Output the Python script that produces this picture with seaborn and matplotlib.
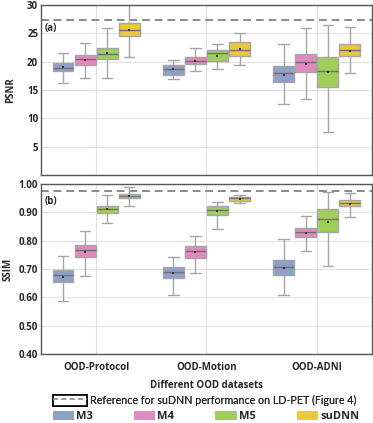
import numpy as np
import pandas as pd
import matplotlib
matplotlib.use("Agg")
import matplotlib.pyplot as plt
import seaborn as sns
from matplotlib.lines import Line2D
from matplotlib.patches import Patch
from matplotlib.legend_handler import HandlerTuple

datasets = ["OOD-Protocol", "OOD-Motion", "OOD-ADNI"]
models = ["M3", "M4", "M5", "suDNN"]
colors = ["#8fa0c8", "#e08ac0", "#9fcf58", "#e9c93a"]

# five-number summaries [min, Q1, median, Q3, max], model order M3, M4, M5, suDNN
psnr_protocol = [[16.3, 18.35, 18.95, 19.7, 21.5], [17.1, 19.5, 20.4, 21.2, 23.35],
                 [17.2, 20.4, 21.35, 22.5, 25.9], [20.8, 24.5, 25.6, 26.8, 30.5]]
psnr_motion = [[16.9, 17.7, 18.7, 19.35, 20.3], [18.3, 19.6, 20.2, 20.8, 22.5],
               [18.65, 20.05, 21.5, 22.05, 23.2], [19.4, 21.0, 22.05, 23.4, 25.0]]
psnr_adni = [[12.5, 16.5, 17.95, 19.2, 23.05], [13.35, 18.2, 19.95, 21.35, 26.0],
             [7.6, 15.5, 18.4, 20.9, 26.5], [18.1, 21.1, 22.05, 23.1, 26.2]]
ssim_protocol = [[0.586, 0.653, 0.680, 0.696, 0.745], [0.674, 0.741, 0.767, 0.784, 0.835],
                 [0.862, 0.899, 0.911, 0.924, 0.960], [0.924, 0.951, 0.959, 0.965, 0.988]]
ssim_motion = [[0.607, 0.667, 0.689, 0.707, 0.742], [0.686, 0.739, 0.762, 0.780, 0.818],
               [0.842, 0.889, 0.907, 0.921, 0.935], [0.932, 0.941, 0.951, 0.955, 0.961]]
ssim_adni = [[0.607, 0.680, 0.707, 0.732, 0.805], [0.763, 0.812, 0.832, 0.844, 0.887],
             [0.711, 0.832, 0.875, 0.913, 0.971], [0.885, 0.922, 0.934, 0.944, 0.967]]

psnr_mean_protocol = [19.0, 20.3, 21.5, 25.6]
psnr_mean_motion = [18.65, 20.2, 21.05, 22.2]
psnr_mean_adni = [17.7, 19.6, 18.2, 21.9]
ssim_mean_protocol = [0.671, 0.760, 0.911, 0.958]
ssim_mean_motion = [0.685, 0.760, 0.904, 0.948]
ssim_mean_adni = [0.703, 0.826, 0.867, 0.929]

psnr_reference = 27.4
ssim_reference = 0.976


def box_frame(groups):
    rows = []
    for ds, summ in zip(datasets, groups):
        for m, vals in zip(models, summ):
            for v in vals:
                rows.append((ds, m, v))
    return pd.DataFrame(rows, columns=["dataset", "model", "value"])


def mean_frame(groups):
    rows = []
    for ds, means in zip(datasets, groups):
        for m, v in zip(models, means):
            rows.append((ds, m, v))
    return pd.DataFrame(rows, columns=["dataset", "model", "value"])


psnr_df = box_frame([psnr_protocol, psnr_motion, psnr_adni])
ssim_df = box_frame([ssim_protocol, ssim_motion, ssim_adni])
psnr_mean_df = mean_frame([psnr_mean_protocol, psnr_mean_motion, psnr_mean_adni])
ssim_mean_df = mean_frame([ssim_mean_protocol, ssim_mean_motion, ssim_mean_adni])

sns.set_style("whitegrid")
plt.rcParams["font.family"] = ["Open Sans", "DejaVu Sans"]

FS = 7

fig = plt.figure(figsize=(3.73, 4.23), dpi=100)
ax1 = fig.add_axes([0.110, 0.586, 0.887, 0.402])
ax2 = fig.add_axes([0.110, 0.163, 0.887, 0.402])

for ax, df, mdf, ref in [(ax1, psnr_df, psnr_mean_df, psnr_reference),
                         (ax2, ssim_df, ssim_mean_df, ssim_reference)]:
    sns.boxplot(data=df, x="dataset", y="value", hue="model", order=datasets,
                hue_order=models, palette=colors, whis=(0, 100), width=0.8, gap=0.06,
                linewidth=1, linecolor="#a5a5a5", fliersize=0, saturation=1,
                legend=False, ax=ax, medianprops=dict(color="#707070", linewidth=1))
    sns.stripplot(data=mdf, x="dataset", y="value", hue="model", order=datasets,
                  hue_order=models, palette=["#333333"] * 4, dodge=True, jitter=False,
                  marker="s", size=1.6, legend=False, ax=ax, zorder=5)
    ax.axhline(ref, color="#8a8a8a", linestyle=(0, (4, 2.5)), linewidth=1.4, zorder=1)
    ax.set_xlim(-0.5, 2.5)
    ax.grid(axis="both", color="#e0e0e0", linewidth=0.8)
    ax.set_axisbelow(True)
    for s in ax.spines.values():
        s.set_color("#555555")
        s.set_linewidth(1.0)
    ax.tick_params(axis="both", labelsize=FS, length=0, pad=2)

ax1.set_ylim(0, 30)
ax1.set_yticks([5, 10, 15, 20, 25, 30])
ax1.set_yticklabels(["5", "10", "15", "20", "25", "30"], fontweight="bold", fontsize=FS)
ax1.set_xticklabels([])
ax1.set_xlabel("")
ax1.set_ylabel("PSNR", fontweight="bold", fontsize=FS, labelpad=8)
ax1.text(0.012, 0.86, "(a)", transform=ax1.transAxes, fontweight="bold", fontsize=FS,
         va="center", ha="left")

ax2.set_ylim(0.4, 1.0)
ssim_ticks = [0.4, 0.5, 0.6, 0.7, 0.8, 0.9, 1.0]
ax2.set_yticks(ssim_ticks)
ax2.set_yticklabels([f"{t:.2f}" for t in ssim_ticks], fontweight="bold", fontsize=FS)
ax2.set_xticks(range(len(datasets)))
ax2.set_xticklabels(datasets, fontweight="bold", fontsize=FS)
ax2.tick_params(axis="x", pad=6)
ax2.set_xlabel("Different OOD datasets", fontweight="bold", fontsize=FS, labelpad=5)
ax2.set_ylabel("SSIM", fontweight="bold", fontsize=FS, labelpad=4)
ax2.text(0.012, 0.90, "(b)", transform=ax2.transAxes, fontweight="bold", fontsize=FS,
         va="center", ha="left")

ref_handle = (Patch(facecolor="white", edgecolor="black", linewidth=1.2),
              Line2D([0], [0], color="#8a8a8a", linestyle=(0, (3, 2)), linewidth=1.2))
leg1 = fig.legend([ref_handle], ["Reference for suDNN performance on LD-PET (Figure 4)"],
                  handler_map={tuple: HandlerTuple(ndivide=1)},
                  loc="center left", bbox_to_anchor=(0.142, 0.054), frameon=False,
                  fontsize=7.7, handlelength=3.2, handleheight=1.2, handletextpad=0.3,
                  borderpad=0, borderaxespad=0)
for t in leg1.get_texts():
    t.set_fontfamily(["Lato", "DejaVu Sans"])
fig.add_artist(leg1)

patches = [Patch(facecolor=c, edgecolor="none") for c in colors]
leg2 = fig.legend(patches, models, loc="center left", bbox_to_anchor=(0.142, 0.015),
                  ncol=4, frameon=False, handlelength=1.9, handleheight=0.9,
                  handletextpad=0.2, columnspacing=3.7, borderpad=0, borderaxespad=0,
                  prop=dict(weight="bold", size=8))

fig.savefig("out.png", dpi=100)
